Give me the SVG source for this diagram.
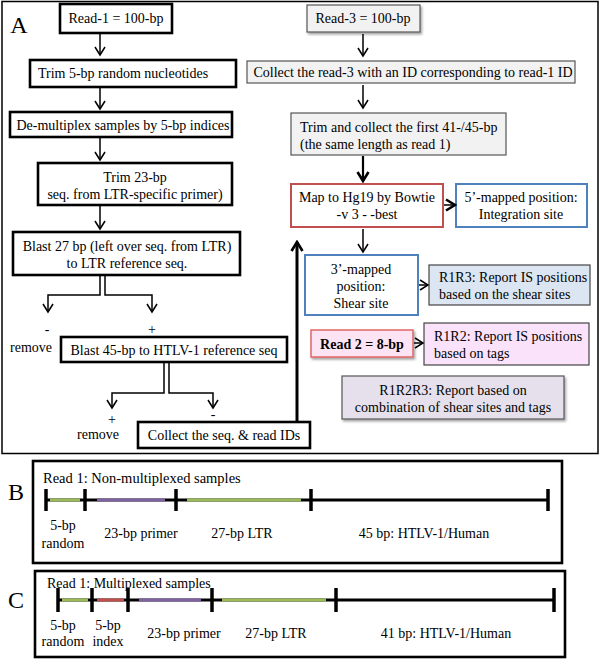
<svg xmlns="http://www.w3.org/2000/svg" width="600" height="660" viewBox="0 0 600 660">
<style>
text{font-family:"Liberation Serif","Times New Roman",serif;fill:#000}
.t{font-size:14px}
.c{text-anchor:middle}
.blk{fill:#fff;stroke:#000;stroke-width:2.6}
.gry{fill:#f2f2f2;stroke:#555;stroke-width:1.2}
.red{fill:#fff;stroke:#c0504d;stroke-width:2}
.blu{fill:#fff;stroke:#4f81bd;stroke-width:2}
.ln{fill:none;stroke:#000;stroke-width:1.5}
.thk{fill:none;stroke:#000;stroke-width:3}
.bar{stroke:#000;stroke-width:3}
.tick{stroke:#000;stroke-width:3.5}
.lab{font-size:14px}
.big{font-size:24px}
</style>
<defs>
<marker id="ah" markerUnits="userSpaceOnUse" markerWidth="12" markerHeight="12" viewBox="0 0 12 12" refX="10" refY="6" orient="auto">
<path d="M2,1 L10,6 L2,11" fill="none" stroke="#000" stroke-width="1.5"/>
</marker>
<marker id="ahb" markerUnits="userSpaceOnUse" markerWidth="14" markerHeight="14" viewBox="0 0 14 14" refX="12" refY="7" orient="auto">
<path d="M3,1.5 L12,7 L3,12.5" fill="none" stroke="#000" stroke-width="2.6"/>
</marker>
<filter id="sh" x="-10%" y="-10%" width="125%" height="140%">
<feDropShadow dx="1.5" dy="2" stdDeviation="1.2" flood-color="#000" flood-opacity="0.35"/>
</filter>
</defs>

<!-- Panel frames -->
<g id="panelA">
<rect x="2" y="1.5" width="596" height="452" fill="#fff" stroke="#000" stroke-width="1.5"/>
<text x="19" y="33" class="big c">A</text>
</g>

<!-- Left column -->
<g id="read1"><rect class="blk" x="60" y="4" width="112" height="29"/><text class="t c" x="116" y="23">Read-1 = 100-bp</text></g>
<g id="trim5"><rect class="blk" x="30" y="60" width="206" height="27"/><text class="t c" x="123" y="78">Trim 5-bp random nucleotides</text></g>
<g id="demux"><rect class="blk" x="10" y="112" width="222" height="25"/><text class="t c" x="123" y="130">De-multiplex samples by 5-bp indices</text></g>
<g id="trim23"><rect class="blk" x="38" y="163" width="194" height="42"/><text class="t c" x="135" y="182">Trim 23-bp</text><text class="t c" x="135" y="199">seq. from LTR-specific primer)</text></g>
<g id="blast27"><rect class="blk" x="13" y="232" width="227" height="43"/><text class="t c" x="127" y="251">Blast 27 bp (left over seq. from LTR)</text><text class="t c" x="127" y="268">to LTR reference seq.</text></g>
<g id="lbl1"><text class="t c" x="47" y="334">-</text><text class="t c" x="152" y="334" fill="#000">+</text><text class="t c" x="31" y="352">remove</text></g>
<g id="blast45"><rect class="blk" x="61" y="337" width="226" height="25"/><text class="t c" x="174" y="355">Blast 45-bp to HTLV-1 reference seq</text></g>
<g id="lbl2"><text class="t c" x="112" y="424" fill="#000">+</text><text class="t c" x="213" y="419">-</text><text class="t c" x="98" y="439">remove</text></g>
<g id="collectIDs"><rect class="blk" x="138" y="422" width="172" height="26"/><text class="t c" x="224" y="440">Collect the seq. &amp; read IDs</text></g>

<!-- Right column -->
<g id="read3"><rect class="gry" filter="url(#sh)" x="307" y="5" width="113" height="27"/><text class="t c" x="363" y="23">Read-3 = 100-bp</text></g>
<g id="collect3"><rect class="gry" x="247" y="61" width="328" height="22"/><text class="t c" x="413" y="77" font-size="13.7">Collect the read-3 with an ID corresponding  to read-1 ID</text></g>
<g id="trimcollect"><rect class="gry" x="291" y="113" width="215" height="42"/><text class="t" x="300" y="132">Trim and collect the first 41-/45-bp</text><text class="t" x="300" y="149">(the same length as read 1)</text></g>
<g id="map"><rect class="red" x="291" y="184" width="152" height="43"/><text class="t c" x="367" y="202">Map to Hg19 by Bowtie</text><text class="t c" x="367" y="219">-v 3 - -best</text></g>
<g id="fivep"><rect class="blu" x="456" y="184" width="131" height="43"/><text class="t c" x="521" y="202">5’-mapped position:</text><text class="t c" x="521" y="219">Integration site</text></g>
<g id="threep"><rect class="blu" x="305" y="255" width="113" height="60"/><text class="t c" x="361" y="274">3’-mapped</text><text class="t c" x="361" y="291">position:</text><text class="t c" x="361" y="308">Shear site</text></g>
<g id="r1r3"><rect x="429" y="265" width="161" height="40" fill="#dce6f2" stroke="#444" stroke-width="1.2"/><text class="t" x="439" y="282">R1R3: Report IS positions</text><text class="t" x="439" y="299">based on the shear sites</text></g>
<g id="read2"><rect x="311" y="330" width="102" height="27" fill="#fce4f4" stroke="#e06666" stroke-width="1.5" filter="url(#sh)"/><text class="t c" x="362" y="349" font-weight="bold">Read 2 = 8-bp</text></g>
<g id="r1r2"><rect x="424" y="323" width="165" height="42" fill="#fbe2fb" stroke="#444" stroke-width="1.2"/><text class="t" x="434" y="341">R1R2: Report IS positions</text><text class="t" x="434" y="358">based on tags</text></g>
<g id="r1r2r3"><rect x="342" y="376" width="222" height="43" fill="#e5e0ec" stroke="#555" stroke-width="1.2" filter="url(#sh)"/><text class="t c" x="453" y="395">R1R2R3: Report based on</text><text class="t c" x="453" y="412">combination of  shear sites and tags</text></g>

<!-- Connectors -->
<g id="connectors">
<line class="ln" x1="100" y1="34" x2="100" y2="55" marker-end="url(#ah)"/>
<line class="ln" x1="100" y1="88" x2="100" y2="109" marker-end="url(#ah)"/>
<line class="ln" x1="100" y1="138" x2="100" y2="160" marker-end="url(#ah)"/>
<line class="ln" x1="100" y1="206" x2="100" y2="229" marker-end="url(#ah)"/>
<polyline class="ln" points="100,276 100,295 48,295 48,312" marker-end="url(#ah)"/>
<polyline class="ln" points="105,276 105,295 152,295 152,312" marker-end="url(#ah)"/>
<polyline class="ln" points="164,363 164,393 112,393 112,408" marker-end="url(#ah)"/>
<polyline class="ln" points="169,363 169,393 213,393 213,408" marker-end="url(#ah)"/>
<line class="thk" x1="297" y1="421" x2="297" y2="242" marker-end="url(#ahb)"/>
<line class="ln" x1="363" y1="34" x2="363" y2="56" marker-end="url(#ah)"/>
<line class="ln" x1="363" y1="85" x2="363" y2="108" marker-end="url(#ah)"/>
<line x1="363" y1="156" x2="363" y2="181" stroke="#000" stroke-width="2.2" marker-end="url(#ahb)"/>
<line class="ln" x1="444" y1="205" x2="455" y2="205" stroke-width="2" marker-end="url(#ahb)"/>
<line class="ln" x1="363" y1="229" x2="363" y2="252" marker-end="url(#ah)"/>
<line class="ln" x1="419" y1="285" x2="428" y2="285" marker-end="url(#ah)"/>
<line class="ln" x1="414" y1="343" x2="423" y2="343" marker-end="url(#ah)"/>
</g>

<!-- Panel B -->
<g id="panelB">
<rect x="33" y="461" width="529" height="102" fill="#fff" stroke="#000" stroke-width="2.6"/>
<text x="16" y="500" class="big c">B</text>
<text x="43" y="483" font-size="14.5">Read 1: Non-multiplexed samples</text>
<line class="bar" x1="45" y1="500" x2="548" y2="500"/>
<line x1="50" y1="500" x2="80" y2="500" stroke="#9bbb59" stroke-width="3"/>
<line x1="97" y1="500" x2="165" y2="500" stroke="#8064a2" stroke-width="3"/>
<line x1="187" y1="500" x2="301" y2="500" stroke="#9bbb59" stroke-width="3"/>
<line class="tick" x1="46" y1="489" x2="46" y2="511"/>
<line class="tick" x1="85" y1="489" x2="85" y2="511"/>
<line class="tick" x1="176" y1="489" x2="176" y2="511"/>
<line class="tick" x1="311" y1="489" x2="311" y2="511"/>
<line class="tick" x1="548" y1="489" x2="548" y2="511"/>
<text class="lab c" x="63" y="530">5-bp</text>
<text class="lab c" x="63" y="548">random</text>
<text class="lab c" x="141" y="538">23-bp primer</text>
<text class="lab c" x="242" y="538">27-bp LTR</text>
<text class="lab c" x="424" y="538">45 bp: HTLV-1/Human</text>
</g>

<!-- Panel C -->
<g id="panelC">
<rect x="35" y="571" width="530" height="86" fill="#fff" stroke="#000" stroke-width="2.6"/>
<text x="16" y="608" class="big c">C</text>
<text x="47" y="588" font-size="14">Read 1: Multiplexed samples</text>
<line class="bar" x1="58" y1="600" x2="554" y2="600"/>
<line x1="62" y1="600" x2="88" y2="600" stroke="#9bbb59" stroke-width="3"/>
<line x1="97" y1="600" x2="124" y2="600" stroke="#c0504d" stroke-width="3"/>
<line x1="139" y1="600" x2="201" y2="600" stroke="#8064a2" stroke-width="3"/>
<line x1="222" y1="600" x2="326" y2="600" stroke="#9bbb59" stroke-width="3"/>
<line class="tick" x1="58" y1="588" x2="58" y2="612"/>
<line class="tick" x1="92" y1="588" x2="92" y2="612"/>
<line class="tick" x1="128" y1="588" x2="128" y2="612"/>
<line class="tick" x1="212" y1="588" x2="212" y2="612"/>
<line class="tick" x1="336" y1="588" x2="336" y2="612"/>
<line class="tick" x1="554" y1="588" x2="554" y2="612"/>
<text class="lab c" x="63" y="630">5-bp</text>
<text class="lab c" x="63" y="646">random</text>
<text class="lab c" x="108" y="630">5-bp</text>
<text class="lab c" x="108" y="646">index</text>
<text class="lab c" x="184" y="638">23-bp primer</text>
<text class="lab c" x="276" y="638">27-bp LTR</text>
<text class="lab c" x="446" y="638">41 bp: HTLV-1/Human</text>
</g>
</svg>
